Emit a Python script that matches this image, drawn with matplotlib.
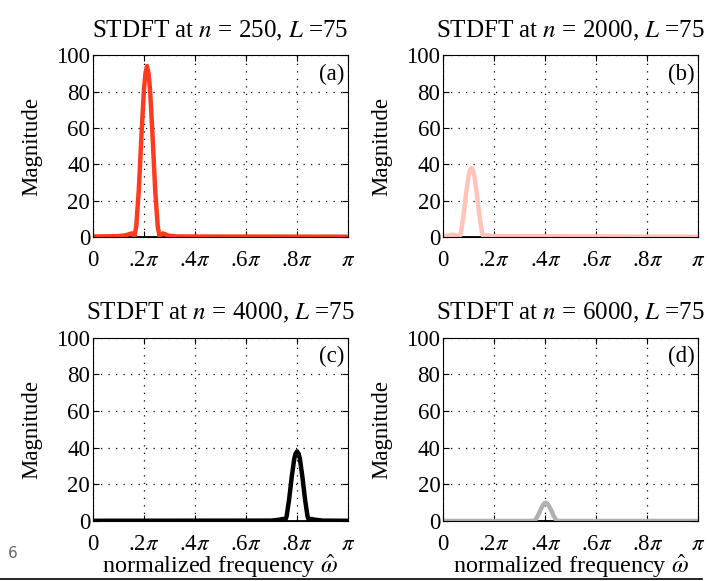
import numpy as np
import matplotlib
matplotlib.use('Agg')
import matplotlib.pyplot as plt
from matplotlib.lines import Line2D

plt.rcParams['font.family'] = ['Liberation Serif', 'DejaVu Serif']
plt.rcParams['mathtext.fontset'] = 'stix'

# frequency in units of pi, magnitude
xA = [0, 0.10, 0.13, 0.147, 0.153, 0.158, 0.163, 0.170, 0.180, 0.190, 0.200, 0.206, 0.212,
      0.218, 0.224, 0.234, 0.244, 0.254, 0.261, 0.266, 0.274, 0.282, 0.295, 0.33, 1.0]
yA = [0.3, 0.5, 1.0, 1.8, 2.0, 1.2, 0.3, 6, 26, 55, 81, 90, 94,
      90, 81, 55, 26, 6, 0.3, 1.2, 2.0, 1.6, 0.8, 0.3, 0.2]

xB = [0, 0.02, 0.035, 0.05, 0.058, 0.064, 0.070, 0.080, 0.090, 0.100, 0.105, 0.111,
      0.117, 0.122, 0.132, 0.142, 0.152, 0.158, 0.165, 0.175, 0.19, 1.0]
yB = [0.5, 0.8, 1.3, 1.0, 0.4, 0.3, 2.6, 12, 24, 34, 36.7, 38,
      36.7, 34, 24, 12, 2.6, 0.3, 0.8, 1.0, 0.5, 0.2]

xC = [0, 0.70, 0.73, 0.745, 0.753, 0.759, 0.769, 0.779, 0.789, 0.794, 0.800,
      0.806, 0.811, 0.821, 0.831, 0.841, 0.847, 0.855, 0.87, 0.90, 1.0]
yC = [0.2, 0.3, 0.8, 1.2, 0.3, 2.6, 12, 24, 34, 36.7, 38,
      36.7, 34, 24, 12, 2.6, 0.3, 1.2, 0.8, 0.3, 0.2]

xD = [0, 0.352, 0.362, 0.372, 0.382, 0.392, 0.397, 0.402, 0.407, 0.412, 0.422, 0.432,
      0.442, 0.452, 1.0]
yD = [0.1, 0.1, 0.7, 3.2, 6.3, 8.9, 9.7, 10, 9.7, 8.9, 6.3, 3.2, 0.7, 0.1, 0.1]

series = [(xA, yA, '#ff3a1e'), (xB, yB, '#ffc3ba'), (xC, yC, '#000000'), (xD, yD, '#b0b0b0')]
nvals = [250, 2000, 4000, 6000]
tags = ['(a)', '(b)', '(c)', '(d)']
xtick_vals = [0, 0.2, 0.4, 0.6, 0.8, 1.0]
xtick_labels = ['0', r'.2$\pi$', r'.4$\pi$', r'.6$\pi$', r'.8$\pi$', r'$\pi$']
ytick_vals = [0, 20, 40, 60, 80, 100]

fig = plt.figure(figsize=(7.09, 5.81), dpi=100)
boxes = [[0.131, 0.592, 0.360, 0.313], [0.625, 0.592, 0.360, 0.313],
         [0.131, 0.103, 0.360, 0.316], [0.625, 0.103, 0.360, 0.316]]

for i, (xs, ys, col) in enumerate(series):
    ax = fig.add_axes(boxes[i])
    ax.plot([0, 1], [0, 0], color='black', lw=2)
    ax.plot(xs, ys, color=col, lw=3.2, solid_joinstyle='round')
    ax.set_xlim(0, 1)
    ax.set_ylim(0, 100)
    ax.set_xticks(xtick_vals)
    ax.set_xticklabels(xtick_labels)
    ax.set_yticks(ytick_vals)
    ax.tick_params(direction='in', top=True, right=True, length=4, labelsize=16.5)
    ax.tick_params(axis='x', pad=9)
    ax.tick_params(axis='y', pad=2)
    ax.grid(True, color='black', linestyle=(0, (1, 5)), linewidth=0.9)
    ax.set_title('STDFT at $n$ = %d, $L$ =75' % nvals[i], fontsize=18, pad=13)
    ax.set_ylabel('Magnitude', fontsize=16.5, labelpad=10)
    ax.text(0.985, 0.955, tags[i], transform=ax.transAxes, ha='right', va='top', fontsize=16.5)
    if i >= 2:
        ax.set_xlabel(r'normalized frequency $\hat{\omega}$', fontsize=17.5, labelpad=-1)

fig.text(0.011, 0.047, '6', fontsize=11, color='#666666', family='DejaVu Sans', va='center')
fig.add_artist(Line2D([0, 0.99], [0.004, 0.004], color='black', lw=1.2, transform=fig.transFigure))

fig.savefig('out.png', dpi=100)
